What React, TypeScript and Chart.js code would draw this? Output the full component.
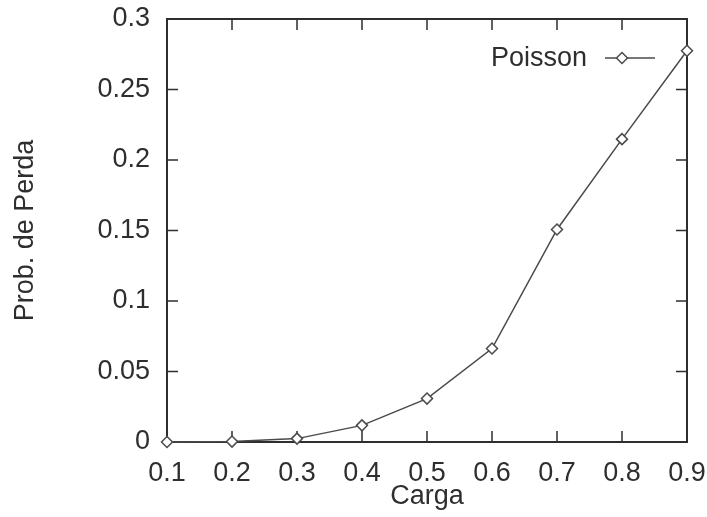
import React, { useEffect, useRef } from "react";
import { Chart, registerables } from "chart.js";

Chart.register(...registerables);

const cargaValues = [0.1, 0.2, 0.3, 0.4, 0.5, 0.6, 0.7, 0.8, 0.9];
const poissonValues = [0.0, 0.0003, 0.0024, 0.0118, 0.0308, 0.0663, 0.1507, 0.2148, 0.2775];
const xTickValues = [0.1, 0.2, 0.3, 0.4, 0.5, 0.6, 0.7, 0.8, 0.9];
const xTickLabels = ["0.1", "0.2", "0.3", "0.4", "0.5", "0.6", "0.7", "0.8", "0.9"];
const yTickValues = [0, 0.05, 0.1, 0.15, 0.2, 0.25, 0.3];
const yTickLabels = ["0", "0.05", "0.1", "0.15", "0.2", "0.25", "0.3"];
const seriesName = "Poisson";
const xTitle = "Carga";
const yTitle = "Prob. de Perda";

const INK = "#2e2e2e";
const LINE = "#4a4a4a";
const FONT = "'Liberation Sans', Arial, Helvetica, sans-serif";
const FS = 27;

const framePlugin = {
  id: "gnuplotFrame",
  beforeDatasetsDraw(chart: any) {
    const { ctx, chartArea } = chart;
    const { left, right, top, bottom } = chartArea;
    const xs = chart.scales.x;
    const ys = chart.scales.y;
    const tl = 11;
    ctx.save();
    ctx.strokeStyle = INK;
    ctx.lineWidth = 2;
    ctx.strokeRect(left, top, right - left, bottom - top);
    ctx.lineWidth = 1.5;
    ctx.beginPath();
    xTickValues.slice(1, -1).forEach((v) => {
      const px = xs.getPixelForValue(v);
      ctx.moveTo(px, bottom);
      ctx.lineTo(px, bottom - tl);
      ctx.moveTo(px, top);
      ctx.lineTo(px, top + tl);
    });
    yTickValues.slice(1, -1).forEach((v) => {
      const py = ys.getPixelForValue(v);
      ctx.moveTo(left, py);
      ctx.lineTo(left + tl, py);
      ctx.moveTo(right, py);
      ctx.lineTo(right - tl, py);
    });
    ctx.stroke();
    ctx.restore();
  },
  afterDraw(chart: any) {
    const { ctx } = chart;
    const y = 58;
    ctx.save();
    ctx.fillStyle = INK;
    ctx.font = `${FS}px ${FONT}`;
    ctx.textAlign = "right";
    ctx.textBaseline = "middle";
    ctx.fillText(seriesName, 587, y + 1);
    ctx.strokeStyle = LINE;
    ctx.lineWidth = 1.5;
    ctx.beginPath();
    ctx.moveTo(605, y);
    ctx.lineTo(655, y);
    ctx.stroke();
    const mx = 622;
    const r = 5.5;
    ctx.beginPath();
    ctx.moveTo(mx - r, y);
    ctx.lineTo(mx, y - r);
    ctx.lineTo(mx + r, y);
    ctx.lineTo(mx, y + r);
    ctx.closePath();
    ctx.fillStyle = "#ffffff";
    ctx.fill();
    ctx.stroke();
    ctx.restore();
  },
};

export default function App() {
  const ref = useRef<HTMLCanvasElement | null>(null);
  useEffect(() => {
    if (!ref.current) return;
    const chart = new Chart(ref.current, {
      type: "line",
      data: {
        datasets: [
          {
            label: seriesName,
            data: cargaValues.map((x, i) => ({ x, y: poissonValues[i] })),
            borderColor: LINE,
            borderWidth: 1.5,
            pointStyle: "rectRot",
            pointRadius: 5.5,
            pointBackgroundColor: "#ffffff",
            pointBorderColor: LINE,
            pointBorderWidth: 1.5,
            tension: 0,
            clip: false as any,
          },
        ],
      },
      options: {
        animation: false,
        responsive: false,
        maintainAspectRatio: false,
        layout: { padding: { top: 19, right: 20, left: 0, bottom: 0 } },
        plugins: { legend: { display: false }, tooltip: { enabled: false } },
        scales: {
          x: {
            type: "linear",
            min: 0.1,
            max: 0.9,
            afterBuildTicks: (s: any) => {
              s.ticks = xTickValues.map((v) => ({ value: v }));
            },
            afterFit: (s: any) => {
              s.height = 75;
              s.paddingLeft = 0;
              s.paddingRight = 0;
            },
            grid: { display: false, drawTicks: false },
            border: { display: false },
            ticks: {
              autoSkip: false,
              maxRotation: 0,
              padding: 15,
              color: INK,
              font: { family: FONT, size: FS },
              callback: (v: any) => {
                const i = xTickValues.findIndex((t) => Math.abs(t - v) < 1e-9);
                return i >= 0 ? xTickLabels[i] : "";
              },
            },
            title: {
              display: true,
              text: xTitle,
              color: INK,
              font: { family: FONT, size: FS },
              padding: { top: 0, bottom: 4 },
            },
          },
          y: {
            type: "linear",
            min: 0,
            max: 0.3,
            afterBuildTicks: (s: any) => {
              s.ticks = yTickValues.map((v) => ({ value: v }));
            },
            afterFit: (s: any) => {
              s.width = 167;
              s.paddingTop = 0;
              s.paddingBottom = 0;
            },
            grid: { display: false, drawTicks: false },
            border: { display: false },
            ticks: {
              autoSkip: false,
              padding: 17,
              color: INK,
              font: { family: FONT, size: FS },
              callback: (v: any) => {
                const i = yTickValues.findIndex((t) => Math.abs(t - v) < 1e-9);
                return i >= 0 ? yTickLabels[i] : "";
              },
            },
            title: {
              display: true,
              text: yTitle,
              color: INK,
              font: { family: FONT, size: FS },
              padding: { top: 9, bottom: 0 },
            },
          },
        },
      },
      plugins: [framePlugin],
    });
    return () => chart.destroy();
  }, []);
  return (
    <div style={{ position: "fixed", left: 0, top: 0, width: 707, height: 517, background: "#fff" }}>
      <canvas ref={ref} width={707} height={517} style={{ width: 707, height: 517 }} />
    </div>
  );
}
